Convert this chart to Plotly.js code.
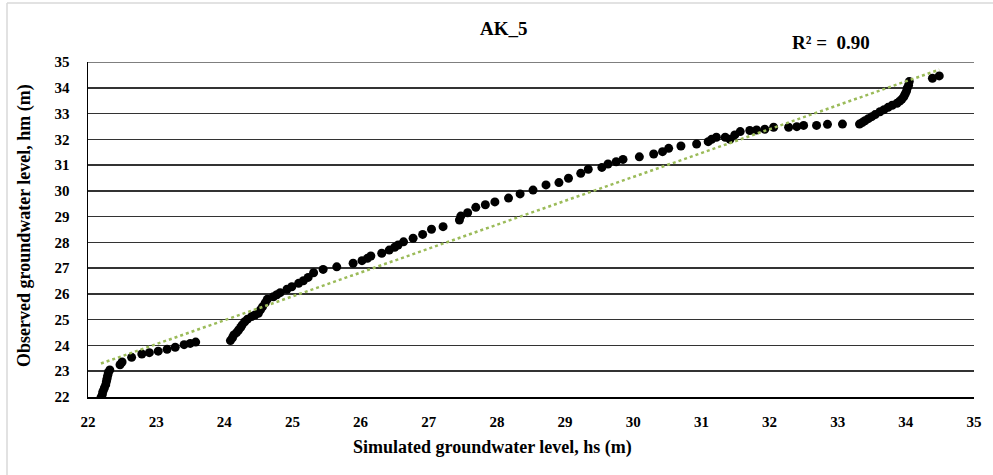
<!DOCTYPE html>
<html>
<head>
<meta charset="utf-8">
<script src="https://cdn.plot.ly/plotly-3.0.1.min.js"></script>
<style>
  html, body { margin: 0; padding: 0; background: #ffffff; }
  #chart { width: 993px; height: 475px; }
</style>
</head>
<body>
<div id="chart"></div>
<script>
// Simulated (hs) vs observed (hm) groundwater level at well AK_5, metres
const simulated = [
  22.19, 22.21, 22.22, 22.24, 22.26, 22.27, 22.28, 22.29, 22.30, 22.32,
  22.47, 22.50, 22.64, 22.79, 22.90, 23.03, 23.16, 23.28, 23.41, 23.50, 23.58,
  24.09, 24.12, 24.14, 24.18, 24.21, 24.24, 24.26, 24.30, 24.34, 24.40,
  24.45, 24.50, 24.53, 24.56, 24.60, 24.63, 24.72, 24.77, 24.82, 24.92,
  24.99, 25.09, 25.16, 25.23, 25.31, 25.45, 25.65, 25.89, 26.02, 26.10,
  26.15, 26.31, 26.42, 26.50, 26.55, 26.63, 26.77, 26.91, 27.04, 27.21,
  27.45, 27.47, 27.57, 27.69, 27.83, 27.97, 28.17, 28.34, 28.53, 28.72,
  28.91, 29.05, 29.23, 29.34, 29.54, 29.63, 29.75, 29.85, 30.09, 30.30,
  30.43, 30.52, 30.70, 30.93, 31.10, 31.15, 31.22, 31.35, 31.42, 31.49,
  31.57, 31.71, 31.81, 31.93, 32.06, 32.28, 32.40, 32.50, 32.69, 32.85,
  33.07, 33.32, 33.36, 33.40, 33.45, 33.50, 33.55, 33.62, 33.68, 33.74,
  33.80, 33.87, 33.91, 33.94, 33.97, 33.99, 34.01, 34.02, 34.04, 34.05,
  34.39, 34.49
];
const observed = [
  21.97, 22.10, 22.22, 22.35, 22.48, 22.60, 22.72, 22.84, 22.95, 23.05,
  23.25, 23.36, 23.54, 23.67, 23.72, 23.78, 23.85, 23.93, 24.03, 24.08, 24.13,
  24.19, 24.30, 24.41, 24.50, 24.60, 24.70, 24.79, 24.92, 25.02, 25.12,
  25.18, 25.25, 25.38, 25.50, 25.65, 25.79, 25.89, 25.97, 26.05, 26.18,
  26.28, 26.41, 26.51, 26.64, 26.82, 26.95, 27.05, 27.19, 27.29, 27.38,
  27.47, 27.58, 27.70, 27.81, 27.90, 28.02, 28.16, 28.31, 28.51, 28.61,
  28.87, 29.02, 29.15, 29.36, 29.46, 29.57, 29.72, 29.88, 30.03, 30.23,
  30.32, 30.49, 30.68, 30.84, 30.91, 31.04, 31.13, 31.22, 31.32, 31.43,
  31.52, 31.65, 31.74, 31.82, 31.91, 32.00, 32.08, 32.08, 32.00, 32.17,
  32.30, 32.34, 32.36, 32.39, 32.47, 32.47, 32.49, 32.54, 32.54, 32.58,
  32.59, 32.59, 32.65, 32.72, 32.80, 32.88, 32.96, 33.07, 33.15, 33.24,
  33.32, 33.40, 33.48, 33.55, 33.65, 33.76, 33.87, 33.98, 34.10, 34.24,
  34.37, 34.46
];

const chartTitle = 'AK_5';
const r2Label = 'R² =  0.90';
const xTitle = 'Simulated groundwater level, hs (m)';
const yTitle = 'Observed groundwater level, hm (m)';
const xTicks = [22, 23, 24, 25, 26, 27, 28, 29, 30, 31, 32, 33, 34, 35];
const yTicks = [22, 23, 24, 25, 26, 27, 28, 29, 30, 31, 32, 33, 34, 35];

// Least-squares linear trendline over the data's x span
function linearFit(xs, ys) {
  const n = xs.length;
  let sx = 0, sy = 0, sxx = 0, sxy = 0;
  for (let i = 0; i < n; i++) {
    sx += xs[i]; sy += ys[i]; sxx += xs[i] * xs[i]; sxy += xs[i] * ys[i];
  }
  const slope = (n * sxy - sx * sy) / (n * sxx - sx * sx);
  const intercept = (sy - slope * sx) / n;
  return { slope, intercept };
}
const fit = linearFit(simulated, observed);
const xMin = Math.min(...simulated), xMax = Math.max(...simulated);
const trendX = [xMin, xMax];
const trendY = trendX.map(v => fit.intercept + fit.slope * v);

const serif = 'Liberation Serif, Times New Roman, serif';

// Plot-area pixel box, used to place the outer frame and free-standing labels
const W = 993, H = 475;
const L = 88, R = 19, T = 62, B = 78;
const pw = W - L - R, ph = H - T - B;
const px = x => (x - L) / pw;
const py = y => (H - B - y) / ph;

const traces = [
  {
    x: simulated, y: observed,
    type: 'scatter', mode: 'markers',
    marker: { color: '#000000', size: 9, line: { width: 0 } },
    hoverinfo: 'x+y', showlegend: false
  },
  {
    x: trendX, y: trendY,
    type: 'scatter', mode: 'lines',
    line: { color: '#9BBB59', width: 2.5, dash: 'dot' },
    hoverinfo: 'skip', showlegend: false
  }
];

const layout = {
  width: W, height: H,
  margin: { l: L, r: R, t: T, b: B },
  paper_bgcolor: '#ffffff',
  plot_bgcolor: '#ffffff',
  font: { family: serif, color: '#000000' },
  showlegend: false,
  xaxis: {
    range: [22, 35],
    tickvals: xTicks,
    ticktext: xTicks.map(String),
    showgrid: false,
    zeroline: false,
    showline: true, linecolor: '#000000', linewidth: 1.5,
    ticks: '',
    ticklabelstandoff: 10,
    tickfont: { family: serif, size: 15, weight: 'bold', color: '#000000' }
  },
  yaxis: {
    range: [22, 35],
    tickvals: yTicks,
    ticktext: yTicks.map(String),
    showgrid: true, gridcolor: '#333333', gridwidth: 1.5,
    zeroline: false,
    showline: true, linecolor: '#000000', linewidth: 1.5,
    ticks: '',
    ticklabelstandoff: 14,
    tickfont: { family: serif, size: 15, weight: 'bold', color: '#000000' }
  },
  shapes: [
    // top gridline drawn a lighter grey
    { type: 'line', xref: 'paper', yref: 'y', x0: 0, x1: 1, y0: 35, y1: 35,
      line: { color: '#7f7f7f', width: 2 } },
    // outer chart frame (left and top edges)
    { type: 'line', xref: 'paper', yref: 'paper', x0: px(7), x1: px(7), y0: py(3), y1: py(476),
      line: { color: '#d9d9d9', width: 1.5 } },
    { type: 'line', xref: 'paper', yref: 'paper', x0: px(7), x1: px(995), y0: py(3), y1: py(3),
      line: { color: '#d9d9d9', width: 1.5 } }
  ],
  annotations: [
    { text: chartTitle, xref: 'paper', yref: 'paper', x: px(504), y: py(29),
      showarrow: false, xanchor: 'center', yanchor: 'middle',
      font: { family: serif, size: 19, weight: 'bold', color: '#000000' } },
    { text: r2Label, xref: 'paper', yref: 'paper', x: px(831), y: py(42),
      showarrow: false, xanchor: 'center', yanchor: 'middle',
      font: { family: serif, size: 19, weight: 'bold', color: '#000000' } },
    { text: xTitle, xref: 'paper', yref: 'paper', x: px(492), y: py(448),
      showarrow: false, xanchor: 'center', yanchor: 'middle',
      font: { family: serif, size: 18, weight: 'bold', color: '#000000' } },
    { text: yTitle, xref: 'paper', yref: 'paper', x: px(25), y: py(226),
      showarrow: false, xanchor: 'center', yanchor: 'middle', textangle: -90,
      font: { family: serif, size: 18, weight: 'bold', color: '#000000' } }
  ]
};

Plotly.newPlot('chart', traces, layout, { displayModeBar: false, staticPlot: true });
</script>
</body>
</html>
